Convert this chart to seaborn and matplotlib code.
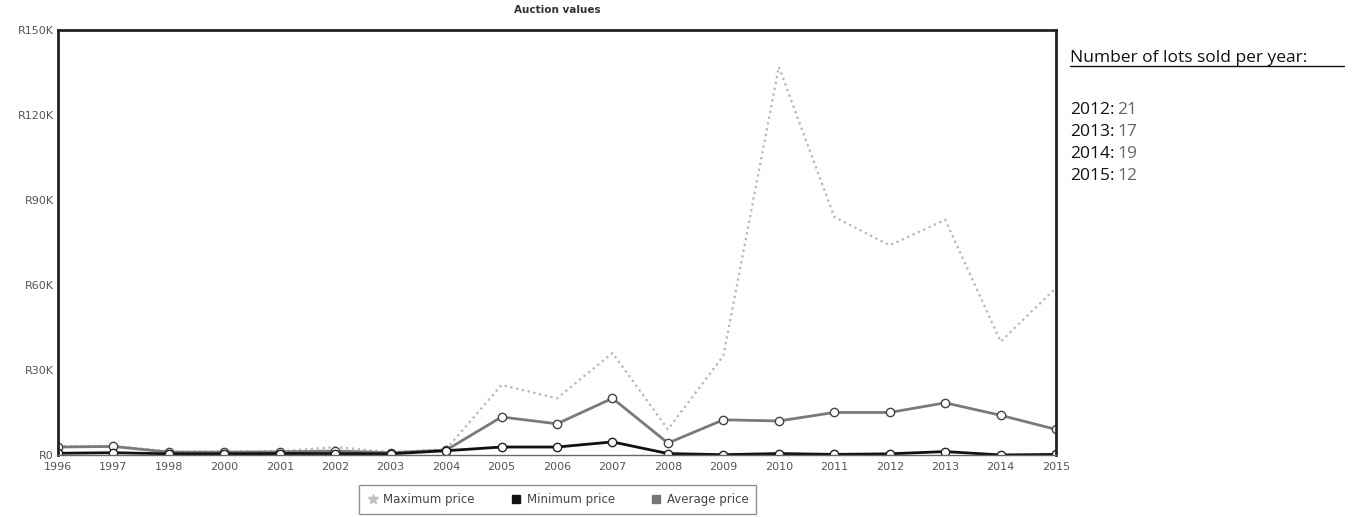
import pandas as pd
import matplotlib.pyplot as plt
import seaborn as sns
from matplotlib.lines import Line2D

# Datos (en miles de rand)
years = ["1996", "1997", "1998", "2000", "2001", "2002", "2003", "2004", "2005", "2006",
         "2007", "2008", "2009", "2010", "2011", "2012", "2013", "2014", "2015"]
max_price = [3.0, 3.2, 1.2, 1.2, 1.3, 2.8, 1.0, 2.0, 24.7, 20.0,
             36.0, 9.0, 35.0, 137.0, 84.0, 74.0, 83.0, 40.0, 59.0]
avg_price = [2.8, 3.0, 1.0, 1.0, 1.1, 1.4, 0.8, 1.7, 13.4, 11.0,
             20.0, 4.2, 12.4, 12.0, 15.0, 15.0, 18.4, 14.0, 9.0]
min_price = [0.6, 0.8, 0.4, 0.4, 0.5, 0.5, 0.4, 1.5, 2.8, 2.8,
             4.6, 0.5, 0.1, 0.5, 0.2, 0.4, 1.2, 0.0, 0.2]
lots_years = ["2012", "2013", "2014", "2015"]
lots_sold = [21, 17, 19, 12]


def main():
    df = pd.DataFrame({
        "year": years,
        "Maximum price": max_price,
        "Minimum price": min_price,
        "Average price": avg_price,
    })
    df["pos"] = range(len(df))

    sns.set_style("white")
    fig = plt.figure(figsize=(13.54, 5.17), dpi=100)
    ax = fig.add_axes([0.0428, 0.12, 0.7372, 0.822])

    sns.lineplot(data=df, x="pos", y="Maximum price", ax=ax, color="#b5b5b5",
                 linestyle=":", linewidth=1.6)
    sns.lineplot(data=df, x="pos", y="Average price", ax=ax, color="#7a7a7a",
                 linewidth=2, marker="o", markersize=6, markerfacecolor="white",
                 markeredgecolor="#444444", markeredgewidth=1)
    sns.lineplot(data=df, x="pos", y="Minimum price", ax=ax, color="#111111",
                 linewidth=2, marker="o", markersize=6, markerfacecolor="white",
                 markeredgecolor="#222222", markeredgewidth=1)

    ax.set_xlim(0, len(years) - 1)
    ax.set_ylim(0, 150)
    ax.set_xticks(df["pos"])
    ax.set_xticklabels(years)
    ax.set_yticks([0, 30, 60, 90, 120, 150])
    ax.set_yticklabels(["R0", "R30K", "R60K", "R90K", "R120K", "R150K"])
    ax.tick_params(axis="x", labelsize=8, labelcolor="#555555", length=0, pad=5)
    ax.tick_params(axis="y", labelsize=8, labelcolor="#555555", length=0, pad=3)
    ax.set_xlabel("")
    ax.set_ylabel("")
    for side in ["left", "top", "right"]:
        ax.spines[side].set_color("#222222")
        ax.spines[side].set_linewidth(2)
    ax.spines["bottom"].set_color("#666666")
    ax.spines["bottom"].set_linewidth(1)

    ax.set_title("Auction values", fontsize=7.5, fontweight="bold", color="#333333", pad=12)

    handles = [
        Line2D([], [], marker="*", linestyle="", color="#c0c0c0", markersize=7),
        Line2D([], [], marker="s", linestyle="", color="#111111", markersize=6),
        Line2D([], [], marker="s", linestyle="", color="#777777", markersize=6),
    ]
    leg = fig.legend(handles, ["Maximum price", "Minimum price", "Average price"],
                     loc="center", bbox_to_anchor=(0.412, 0.034), ncol=3, fontsize=8.5,
                     frameon=True, handletextpad=0.4, columnspacing=3.0,
                     borderpad=0.35, handlelength=1.0)
    leg.get_frame().set_edgecolor("#777777")
    leg.get_frame().set_boxstyle("square")
    for t in leg.get_texts():
        t.set_color("#444444")

    # Texto lateral
    fig.text(0.79, 0.88, "Number of lots sold per year:", fontsize=12.5,
             family="Open Sans", color="#111111")
    fig.add_artist(Line2D([0.79, 0.9925], [0.872, 0.872], color="#111111", linewidth=1))
    y0 = 0.78
    for yr, n in zip(lots_years, lots_sold):
        fig.text(0.79, y0, f"{yr}:", fontsize=12.5, family="Open Sans", color="#111111")
        fig.text(0.825, y0, f"{n}", fontsize=12.5, family="Open Sans", color="#666666")
        y0 -= 0.0425

    plt.savefig("out.png", dpi=100)
    plt.close()


if __name__ == "__main__":
    main()
